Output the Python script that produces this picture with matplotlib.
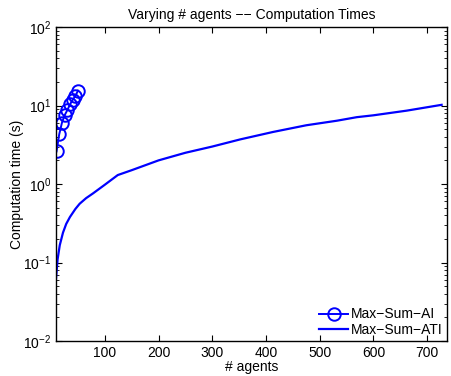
import matplotlib
matplotlib.use("Agg")
import matplotlib.pyplot as plt
from matplotlib.ticker import LogLocator, NullFormatter

plt.rcParams['font.family'] = ['Liberation Sans', 'DejaVu Sans']
plt.rcParams['mathtext.fontset'] = 'custom'
plt.rcParams['mathtext.rm'] = 'Liberation Sans'

# Data
ai_agents = [10, 15, 20, 25, 30, 35, 40, 45, 50]
ai_times = [2.6, 4.3, 6.0, 7.5, 8.7, 10.3, 11.8, 13.2, 15.5]

ati_agents = [9, 12, 16, 22, 28, 35, 45, 53, 65, 78, 100, 124, 150, 200, 250, 300,
              352, 413, 475, 532, 569, 600, 662, 727]
ati_times = [0.062, 0.11, 0.166, 0.24, 0.31, 0.38, 0.48, 0.56, 0.66, 0.76, 0.98, 1.3,
             1.5, 2.0, 2.5, 3.0, 3.7, 4.6, 5.6, 6.4, 7.1, 7.5, 8.6, 10.2]

title = "Varying # agents \u2212\u2212 Computation Times"
xlabel = "# agents"
ylabel = "Computation time (s)"
legend_labels = ["Max\u2212Sum\u2212AI", "Max\u2212Sum\u2212ATI"]
xticks = [100, 200, 300, 400, 500, 600, 700]

fig = plt.figure(figsize=(4.51, 3.76), dpi=100)
ax = fig.add_axes([56 / 451, 1 - 341 / 376, (447 - 56) / 451, (341 - 27) / 376])

ax.semilogy(ai_agents, ai_times, color='#0000ff', marker='o', markersize=9,
            markerfacecolor='none', markeredgewidth=1.4, linewidth=1.4,
            label=legend_labels[0])
ax.semilogy(ati_agents, ati_times, color='#0000ff', linewidth=1.6,
            label=legend_labels[1])

ax.set_xlim(9, 737)
ax.set_ylim(1e-2, 1e2)
ax.set_xticks(xticks)
ax.yaxis.set_major_locator(LogLocator(base=10, numticks=10))
ax.yaxis.set_minor_locator(LogLocator(base=10, subs=range(2, 10), numticks=20))
ax.yaxis.set_minor_formatter(NullFormatter())

ax.tick_params(which='both', direction='in', top=True, right=True, labelsize=10,
               colors='black')
ax.tick_params(which='major', length=4, width=0.8)
ax.tick_params(which='minor', length=2, width=0.6)
for s in ax.spines.values():
    s.set_linewidth(1.0)

ax.set_title(title, fontsize=10, pad=6)
ax.set_xlabel(xlabel, fontsize=10, labelpad=0)
ax.set_ylabel(ylabel, fontsize=10, labelpad=-1)

leg = ax.legend(loc='lower right', frameon=False, fontsize=10, handlelength=2.1,
                handletextpad=0.2, borderaxespad=0.0, borderpad=0.3,
                labelspacing=0.1)

fig.savefig("out.png", dpi=100)
